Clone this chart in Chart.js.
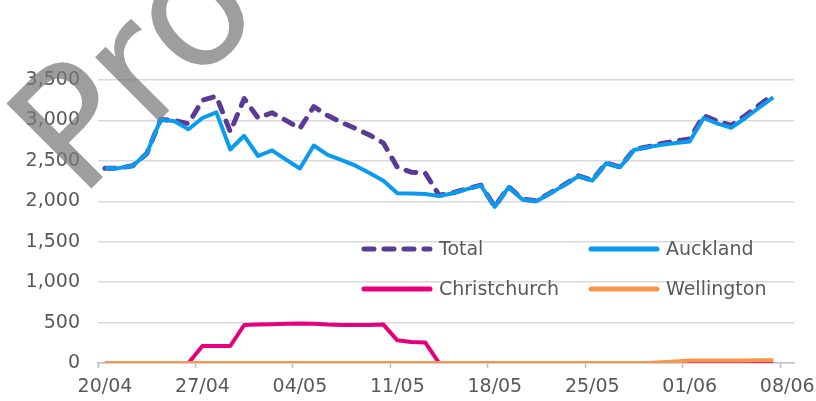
<!DOCTYPE html>
<html><head><meta charset="utf-8">
<script src="https://cdn.jsdelivr.net/npm/chart.js@4.4.1/dist/chart.umd.min.js"></script>
<style>html,body{margin:0;padding:0;background:#fff;}#wrap{width:816px;height:401px;position:relative;}</style>
</head><body><div id="wrap"><canvas id="c" width="816" height="401"></canvas></div>
<script>
// Daily values, 20/04 .. 07/06
const xTickLabels = ['20/04','27/04','04/05','11/05','18/05','25/05','01/06','08/06'];
const seriesNames = ['Total','Auckland','Christchurch','Wellington'];
const total = [2410,2410,2440,2590,3010,3000,2960,3250,3300,2860,3270,3030,3095,3000,2900,3170,3060,2975,2900,2820,2720,2420,2360,2350,2075,2105,2155,2200,1935,2180,2025,2005,2105,2205,2315,2260,2475,2425,2640,2675,2715,2745,2770,3060,2990,2940,3060,3190,3320];
const auckland = [2410,2410,2440,2590,3010,2990,2890,3030,3100,2640,2810,2560,2630,2515,2405,2690,2575,2510,2440,2350,2255,2100,2095,2090,2065,2100,2150,2195,1930,2175,2020,2000,2100,2200,2310,2255,2470,2420,2635,2670,2700,2720,2740,3030,2960,2910,3030,3160,3285];
const christchurch = [0,0,0,0,0,0,0,210,210,210,470,475,480,485,490,485,475,470,470,470,475,280,260,255,0,0,0,0,0,0,0,0,0,0,0,0,0,0,0,0,0,0,0,0,0,0,0,0,0];
const wellington = [0,0,0,0,0,0,0,0,0,0,0,0,0,0,0,0,0,0,0,0,0,0,0,0,0,0,0,0,0,0,0,0,0,0,0,0,0,0,0,0,10,20,30,30,30,32,32,33,33];
const yTickValues = [0,500,1000,1500,2000,2500,3000,3500];

const colors = {Total:'#5B3A96', Auckland:'#0A9BF0', Christchurch:'#E6007E', Wellington:'#F7964A'};
const textColor = '#595959';
const fontFamily = '"DejaVu Sans", sans-serif';

function pts(arr){ return arr.map((v,i)=>({x:i+0.5, y:v})); }

const legendPlugin = {
  id:'insideLegend',
  afterDatasetsDraw(chart){
    const ctx = chart.ctx;
    const cols = [362, 589], rows = [249, 289], sampleLen = 68;
    chart.data.datasets.forEach((ds, i) => {
      const x = cols[i % 2], y = rows[Math.floor(i / 2)];
      ctx.save();
      ctx.strokeStyle = ds.borderColor;
      ctx.lineWidth = 5;
      ctx.lineCap = 'round';
      ctx.setLineDash(ds.borderDash || []);
      ctx.beginPath(); ctx.moveTo(x + 2, y); ctx.lineTo(x + sampleLen, y); ctx.stroke();
      ctx.setLineDash([]);
      ctx.fillStyle = textColor;
      ctx.font = '19px ' + fontFamily;
      ctx.textBaseline = 'middle';
      ctx.textAlign = 'left';
      ctx.fillText(ds.label, x + 77, y + 1);
      ctx.restore();
    });
  }
};

const watermarkPlugin = {
  id:'watermark',
  afterDraw(chart){
    const ctx = chart.ctx;
    ctx.save();
    ctx.translate(80, 200);
    ctx.rotate(-45 * Math.PI / 180);
    ctx.font = '165px ' + fontFamily;
    ctx.fillStyle = 'rgba(120,120,120,0.72)';
    ctx.textBaseline = 'alphabetic';
    ctx.fillText('Pro', 0, 0);
    ctx.restore();
  }
};

new Chart(document.getElementById('c'), {
  type:'line',
  data:{
    datasets:[
      {label:seriesNames[0], data:pts(total), borderColor:colors.Total, borderWidth:5, borderDash:[10,10], borderCapStyle:'round', borderJoinStyle:'round', pointRadius:0, tension:0, order:3},
      {label:seriesNames[1], data:pts(auckland), borderColor:colors.Auckland, borderWidth:4, borderJoinStyle:'round', pointRadius:0, tension:0, order:1},
      {label:seriesNames[2], data:pts(christchurch), borderColor:colors.Christchurch, borderWidth:4, borderJoinStyle:'round', pointRadius:0, tension:0, order:2},
      {label:seriesNames[3], data:pts(wellington), borderColor:colors.Wellington, borderWidth:4, borderJoinStyle:'round', pointRadius:0, tension:0, order:0}
    ]
  },
  options:{
    responsive:false, animation:false, devicePixelRatio:1,
    layout:{padding:{top:80, right:21, bottom:0, left:0}},
    plugins:{legend:{display:false}, tooltip:{enabled:false}},
    scales:{
      x:{
        type:'linear', min:0, max:50,
        afterBuildTicks:(s)=>{ s.ticks = xTickLabels.map((l,i)=>({value:i*7})); },
        afterFit:(s)=>{ s.height = 38; },
        ticks:{callback:(v)=>xTickLabels[Math.round(v/7)], labelOffset:7, padding:8, autoSkip:false, maxRotation:0,
               color:textColor, font:{family:fontFamily, size:19}},
        grid:{display:true, drawOnChartArea:false, drawTicks:true, tickLength:5, tickColor:'#bfbfbf', tickWidth:1.5},
        border:{display:true, color:'#bfbfbf', width:1.5}
      },
      y:{
        min:0, max:3500,
        afterBuildTicks:(s)=>{ s.ticks = yTickValues.map(v=>({value:v})); },
        afterFit:(s)=>{ s.width = 98; },
        ticks:{callback:(v)=>v.toLocaleString('en-US'), padding:18, color:textColor, font:{family:fontFamily, size:19}},
        grid:{color:'#d9d9d9', lineWidth:1.5, drawTicks:false},
        border:{display:false}
      }
    }
  },
  plugins:[legendPlugin, watermarkPlugin]
});
</script></body></html>
